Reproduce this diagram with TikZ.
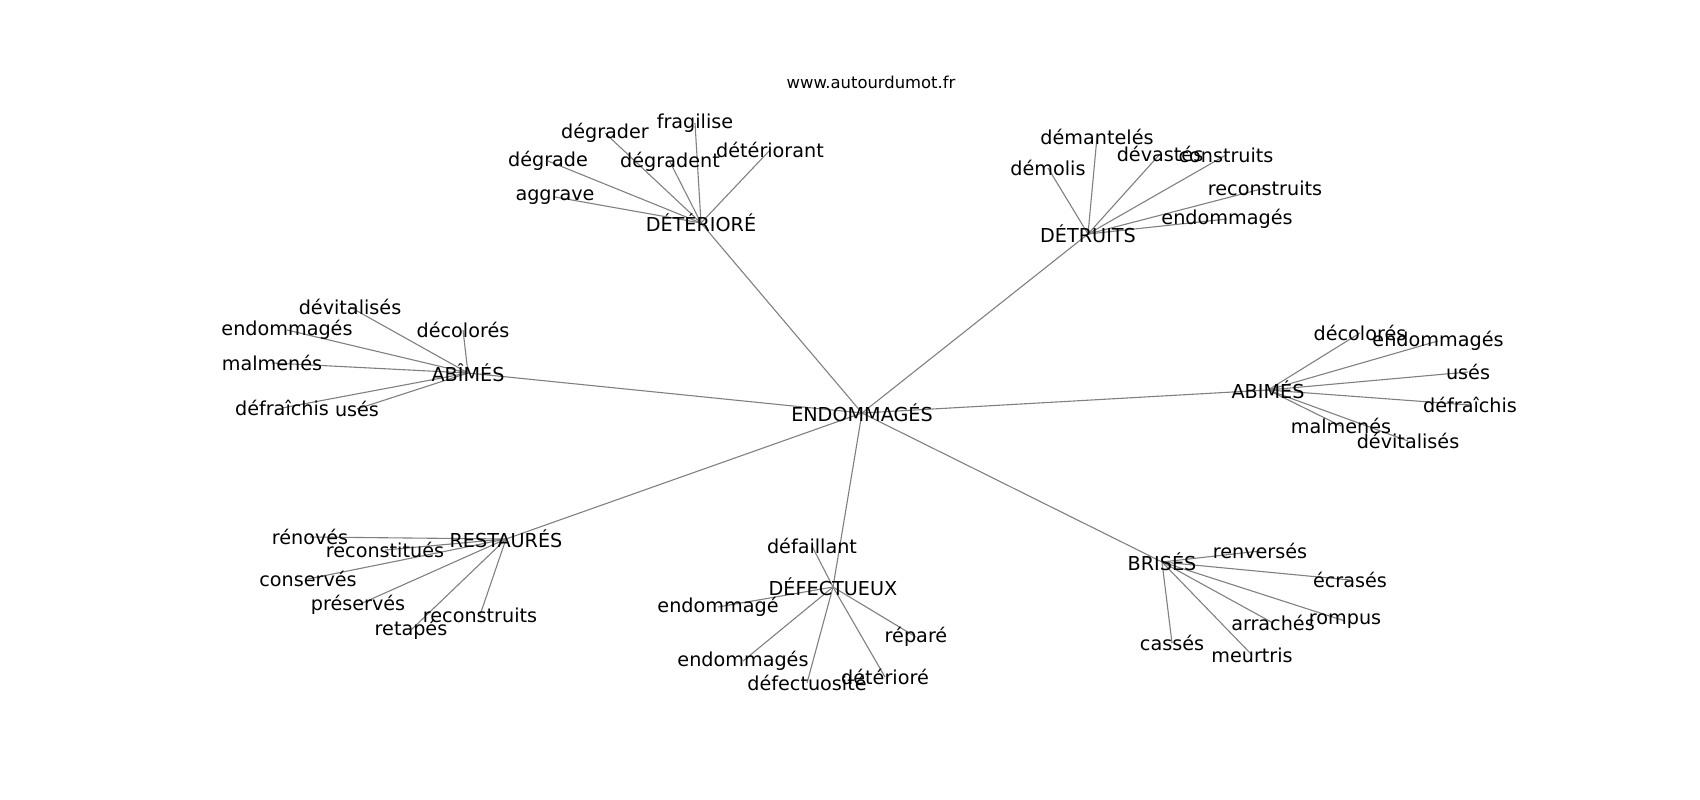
\documentclass[tikz,border=0pt]{standalone}
\usepackage{fontspec}
\setmainfont{DejaVu Sans}
\usepackage{tikz}
\usetikzlibrary{backgrounds}

\begin{document}
\begin{tikzpicture}[x=1pt,y=-1pt,
	hub node/.style={inner sep=0pt,font=\fontsize{19.2}{23}\selectfont},
	leaf node/.style={inner sep=0pt,font=\fontsize{19.2}{23}\selectfont},
	title node/.style={inner sep=0pt,font=\fontsize{16.4}{20}\selectfont},
	link/.style={draw=gray,line width=1.1pt}]

	\useasboundingbox (0,0) rectangle (1700,800);

	\node[title node] (site) at (871,82) {www.autourdumot.fr};

	% centre et noeuds principaux
	\node[hub node] (endo) at (862,413) {ENDOMMAGÉS};
	\node[hub node] (det) at (701,223) {DÉTÉRIORÉ};
	\node[hub node] (detr) at (1088,234) {DÉTRUITS};
	\node[hub node] (abiL) at (468,373) {ABÎMÉS};
	\node[hub node] (abiR) at (1268,390) {ABIMÉS};
	\node[hub node] (rest) at (506,539) {RESTAURÉS};
	\node[hub node] (defe) at (833,587) {DÉFECTUEUX};
	\node[hub node] (bris) at (1162,562) {BRISÉS};

	% DÉTÉRIORÉ
	\node[leaf node] (det1) at (555,197) {aggrave};
	\node[leaf node] (det2) at (548,161) {dégrade};
	\node[leaf node] (det3) at (605,133) {dégrader};
	\node[leaf node] (det4) at (695,123) {fragilise};
	\node[leaf node] (det5) at (670,162) {dégradent};
	\node[leaf node] (det6) at (770,150) {détériorant};

	% DÉTRUITS
	\node[leaf node] (detr1) at (1097,137) {démantelés};
	\node[leaf node] (detr2) at (1160,154) {dévastés};
	\node[leaf node] (detr3) at (1226,155) {construits};
	\node[leaf node] (detr4) at (1048,168) {démolis};
	\node[leaf node] (detr5) at (1265,188) {reconstruits};
	\node[leaf node] (detr6) at (1227,219) {endommagés};

	% ABÎMÉS (gauche)
	\node[leaf node] (abiL1) at (350,307) {dévitalisés};
	\node[leaf node] (abiL2) at (287,330) {endommagés};
	\node[leaf node] (abiL3) at (463,330) {décolorés};
	\node[leaf node] (abiL4) at (272,363) {malmenés};
	\node[leaf node] (abiL5) at (282,408) {défraîchis};
	\node[leaf node] (abiL6) at (357,409) {usés};

	% ABIMÉS (droite)
	\node[leaf node] (abiR1) at (1360,333) {décolorés};
	\node[leaf node] (abiR2) at (1438,341) {endommagés};
	\node[leaf node] (abiR3) at (1468,372) {usés};
	\node[leaf node] (abiR4) at (1470,405) {défraîchis};
	\node[leaf node] (abiR5) at (1341,426) {malmenés};
	\node[leaf node] (abiR6) at (1408,441) {dévitalisés};

	% RESTAURÉS
	\node[leaf node] (rest1) at (310,537) {rénovés};
	\node[leaf node] (rest2) at (385,550) {reconstitués};
	\node[leaf node] (rest3) at (308,579) {conservés};
	\node[leaf node] (rest4) at (358,605) {préservés};
	\node[leaf node] (rest5) at (411,630) {retapés};
	\node[leaf node] (rest6) at (480,615) {reconstruits};

	% DÉFECTUEUX
	\node[leaf node] (defe1) at (812,546) {défaillant};
	\node[leaf node] (defe2) at (718,607) {endommagé};
	\node[leaf node] (defe3) at (916,637) {réparé};
	\node[leaf node] (defe4) at (743,661) {endommagés};
	\node[leaf node] (defe5) at (807,683) {défectuosité};
	\node[leaf node] (defe6) at (885,677) {détérioré};

	% BRISÉS
	\node[leaf node] (bris1) at (1260,551) {renversés};
	\node[leaf node] (bris2) at (1350,580) {écrasés};
	\node[leaf node] (bris3) at (1273,623) {arrachés};
	\node[leaf node] (bris4) at (1345,621) {rompus};
	\node[leaf node] (bris5) at (1172,643) {cassés};
	\node[leaf node] (bris6) at (1252,655) {meurtris};

	\begin{scope}[on background layer]
		\foreach \h in {det,detr,abiL,abiR,rest,defe,bris}{
			\path[link] (endo.center) edge (\h.center);
			\foreach \i in {1,...,6}
				\path[link] (\h.center) edge (\h\i.center);
		}
	\end{scope}
\end{tikzpicture}
\end{document}
